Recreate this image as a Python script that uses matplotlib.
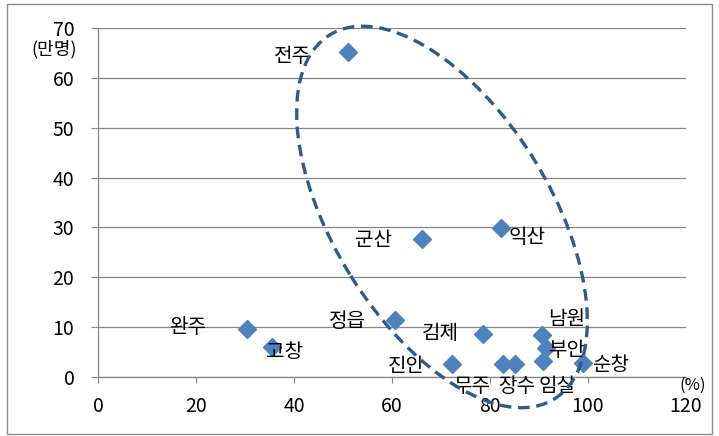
import matplotlib
matplotlib.use('Agg')
import matplotlib.pyplot as plt
from matplotlib.patches import Ellipse, Rectangle

plt.rcParams['font.family'] = ['Noto Sans CJK KR', 'DejaVu Sans']

# 시군별 데이터 (x: %, y: 만명)
names = ['전주', '군산', '익산', '완주', '고창', '정읍', '김제',
         '진안', '무주', '장수', '임실', '남원', '부안', '순창']
x_vals = [51.0, 66.1, 82.2, 30.4, 35.5, 60.6, 78.6,
          72.2, 82.7, 85.1, 90.8, 90.6, 91.4, 99.0]
y_vals = [65.2, 27.7, 29.9, 9.6, 6.0, 11.4, 8.7,
          2.6, 2.6, 2.6, 3.2, 8.5, 5.8, 2.8]
# 라벨 위치 (포인트 단위 오프셋)
label_offsets = [(-40, -3), (-35, -1), (19, -7), (-43, 1), (9, -4), (-34, -1), (-31, 0),
                 (-33, -2), (-23, -16), (1, -16), (10, -18), (18, 11), (15, -2), (20, -2)]

xticks = [0, 20, 40, 60, 80, 100, 120]
yticks = [0, 10, 20, 30, 40, 50, 60, 70]

grid_col = '#868686'
pt_col = '#4F81BD'
ell_col = '#2E5B8E'

fig = plt.figure(figsize=(7.19, 4.36), dpi=100)
ax = fig.add_axes([98 / 719, 59 / 436, 588 / 719, 349 / 436])

ax.set_xlim(0, 120)
ax.set_ylim(0, 70)
ax.set_xticks(xticks)
ax.set_yticks(yticks)
ax.grid(axis='y', color=grid_col, lw=0.9)
ax.set_axisbelow(True)
for s in ['top', 'right']:
    ax.spines[s].set_visible(False)
for s in ['left', 'bottom']:
    ax.spines[s].set_color(grid_col)
    ax.spines[s].set_linewidth(0.9)
ax.tick_params(axis='y', length=5, color=grid_col, pad=12, labelsize=14)
ax.tick_params(axis='x', length=4, color=grid_col, pad=9.5, labelsize=14)

ax.plot(x_vals, y_vals, 'D', color=pt_col, markersize=9, clip_on=False, zorder=3)

for name, x, y, off in zip(names, x_vals, y_vals, label_offsets):
    ax.annotate(name, (x, y), xytext=off, textcoords='offset points',
                ha='center', va='center', fontsize=14.5, zorder=4)

# 점선 타원
ell = Ellipse((70.2, 32.1), width=86.2, height=44.1, angle=-57.6,
              fill=False, edgecolor=ell_col, lw=2.4, ls=(0, (3.5, 2)), clip_on=False, zorder=5)
ax.add_patch(ell)

ax.text(-0.036, 0.94, '(만명)', transform=ax.transAxes, ha='right', va='center', fontsize=13)
ax.text(1.012, -0.023, '(%)', transform=ax.transAxes, ha='center', va='center', fontsize=12)

fig.patches.append(Rectangle((7 / 719, 2 / 436), 705 / 719, 430 / 436, transform=fig.transFigure,
                             fill=False, edgecolor='#8C8C8C', lw=1))

fig.savefig('out.png', dpi=100)
